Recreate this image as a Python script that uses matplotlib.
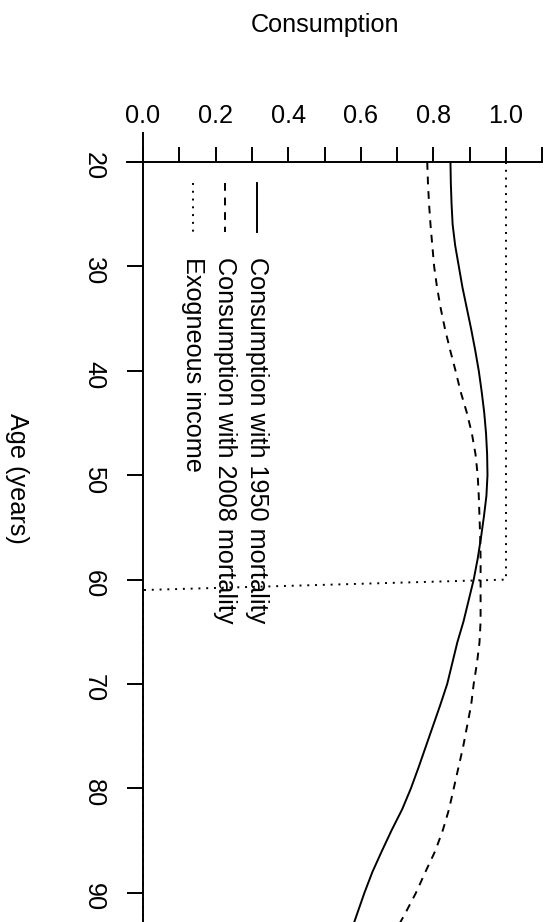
import numpy as np
import matplotlib
matplotlib.use('Agg')
import matplotlib.pyplot as plt
from matplotlib.lines import Line2D

plt.rcParams['font.family'] = ['Liberation Sans', 'DejaVu Sans']

# Data
ages = [20, 22, 24, 26, 28, 30, 32, 34, 36, 38, 40, 42, 44, 46, 48, 50, 52, 54,
        56, 58, 60, 62, 64, 66, 68, 70, 72, 74, 76, 78, 80, 82, 84, 86, 88, 90, 92, 94]
cons_1950 = [0.847, 0.848, 0.850, 0.853, 0.860, 0.870, 0.880, 0.892, 0.904, 0.915,
             0.925, 0.933, 0.940, 0.945, 0.948, 0.949, 0.946, 0.939, 0.931, 0.922,
             0.911, 0.897, 0.883, 0.866, 0.852, 0.838, 0.819, 0.799, 0.779, 0.759,
             0.738, 0.714, 0.685, 0.658, 0.632, 0.610, 0.590, 0.570]
cons_2008 = [0.783, 0.785, 0.788, 0.792, 0.797, 0.802, 0.810, 0.820, 0.832, 0.846,
             0.861, 0.875, 0.892, 0.906, 0.916, 0.922, 0.925, 0.927, 0.929, 0.930,
             0.930, 0.930, 0.930, 0.927, 0.920, 0.911, 0.904, 0.893, 0.882, 0.869,
             0.856, 0.843, 0.826, 0.805, 0.778, 0.752, 0.722, 0.690]
income_ages = [20, 60, 61, 95]
income = [1.0, 1.0, 0.0, 0.0]

W, H = 551, 922
fs = 18.2
fig = plt.figure(figsize=(W / 100, H / 100), dpi=100)
ax = fig.add_axes([0, 0, 1, 1])
ax.patch.set_alpha(0)

lw = 1.4
ax.plot(cons_1950, ages, color='black', lw=lw)
ax.plot(cons_2008, ages, color='black', lw=lw, linestyle=(0, (4, 3.5)))
ax.plot(income, income_ages, color='black', lw=lw, linestyle=(0, (1, 3)))

# pixel mapping: c=0 at x=143, c=1 at x=506; age 20 at y=162, 10 yrs = 104.4 px
px_c = 363.0
px_a = 10.44
ax.set_xlim(-143 / px_c, (W - 143) / px_c)
ax.set_ylim(20 + (H - 162) / px_a, 20 - 162 / px_a)

# axes in the R style, rotated
for s in ['right', 'bottom']:
    ax.spines[s].set_visible(False)
ax.spines['top'].set_position(('data', 20))
ax.spines['top'].set_bounds(-16 / px_c, 1.1)
ax.spines['left'].set_position(('data', 0))
ax.spines['left'].set_bounds(20 - 29 / px_a, 20 + (H - 162) / px_a)
for s in ['top', 'left']:
    ax.spines[s].set_linewidth(lw)

ax.xaxis.set_ticks_position('top')
ax.set_xticks(np.arange(0, 1.01, 0.2))
ax.set_xticklabels(['0.0', '0.2', '0.4', '0.6', '0.8', '1.0'])
ax.set_xticks(np.arange(0.1, 1.11, 0.2), minor=True)
ax.tick_params(axis='x', which='both', direction='out', length=11, width=lw,
               labelsize=fs, pad=13.5)

ax.set_yticks(np.arange(20, 91, 10))
ax.tick_params(axis='y', direction='out', length=11.5, width=lw,
               labelsize=fs, pad=15, labelrotation=-90)

# axis titles
fig.text(325 / W, 1 - 25 / H, 'Consumption', ha='center', va='center', fontsize=fs)
fig.text(17 / W, 1 - 478 / H, 'Age (years)', ha='center', va='center',
         fontsize=fs, rotation=-90)

# rotated legend
leg_items = [('Consumption with 1950 mortality', '-', 257),
             ('Consumption with 2008 mortality', (0, (4, 3.5)), 225),
             ('Exogneous income', (0, (1, 3)), 193)]
for label, ls, xp in leg_items:
    fig.add_artist(Line2D([xp / W, xp / W], [1 - 183 / H, 1 - 232 / H],
                          color='black', lw=lw, linestyle=ls))
    fig.text(xp / W, 1 - 257 / H, label, ha='center', va='top',
             fontsize=fs, rotation=-90)

fig.savefig('out.png', dpi=100)
